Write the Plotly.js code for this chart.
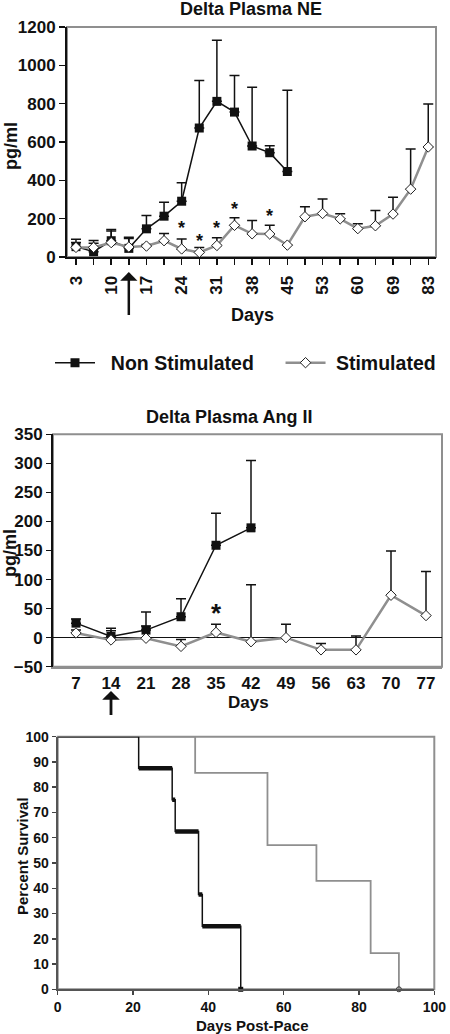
<!DOCTYPE html>
<html><head><meta charset="utf-8">
<script src="https://cdn.plot.ly/plotly-3.0.1.min.js"></script>
<style>html,body{margin:0;padding:0;background:#fff;} #chart{width:450px;height:1034px;}</style>
</head><body><div id="chart"></div>
<script>
// ---------- Delta Plasma NE ----------
const neDays = ['3','7','10','14','17','21','24','28','31','35','38','42','45','49','53','56','60','63','69','76','83'];
const neTickText = ['3','','10','','17','','24','','31','','38','','45','','53','','60','','69','','83'];
const neNonStim = [54, 28, 85, 45, 147, 213, 291, 673, 812, 756, 579, 544, 446];
const neNonStimErr = [39, 58, 59, 58, 69, 73, 97, 248, 319, 191, 307, 37, 424];
const neStim = [50, 50, 75, 52, 57, 85, 42, 24, 60, 165, 121, 120, 62, 210, 227, 199, 148, 163, 224, 354, 574];
const neStimErr = [26, 22, 60, 45, 8, 37, 52, 26, 40, 40, 70, 45, 0, 52, 76, 26, 25, 80, 88, 210, 224];
const neSigDays = ['24', '28', '31', '35', '42'];
const neSigLevel = [172, 103, 172, 270, 235];
const neStimDay = '14';

// ---------- Delta Plasma Ang II ----------
const agDays = [7, 14, 21, 28, 35, 42, 49, 56, 63, 70, 77];
const agNonStim = [25, 2, 13, 36, 159, 189];
const agNonStimErr = [7, 14, 31, 31, 55, 116];
const agStim = [8, -4, -1, -15, 9, -7, 0, -21, -21, 73, 38];
const agStimErr = [5, 16, 21, 12, 14, 98, 23, 11, 24, 76, 76];
const agSigDays = [35];
const agSigLevel = [53];
const agStimDay = 14;

// ---------- Survival ----------
const survNSTime = [0, 21.5, 30.4, 31.2, 37.4, 38.4, 48.6];
const survNS = [100, 87.5, 75, 62.5, 37.5, 25, 0];
const survSTime = [0, 36.5, 55.7, 68.7, 83.1, 90.6];
const survS = [100, 85.7, 57.1, 42.9, 14.3, 0];

const seriesNames = ['Non Stimulated', 'Stimulated'];

// ---------- styling ----------
const W = 450, H = 1034;
const px = v => v / W;
const py = v => 1 - v / H;
const FONT = 'Liberation Sans, Arial, Helvetica, sans-serif';
const GREY = '#8f8f8f';
const BLACK = '#111';
const NB = '\u00a0';
const bold = s => (s === '' ? '' : '<b>' + s + '</b>');
const catIdx = d => neDays.indexOf(d);

function zeros(n) { return new Array(n).fill(0); }

const traces = [];
// NE
traces.push({
  x: neDays.slice(0, neNonStim.length), y: neNonStim, xaxis: 'x', yaxis: 'y',
  name: NB + NB + bold(seriesNames[0]) + NB.repeat(4), type: 'scatter', mode: 'lines+markers', cliponaxis: false,
  line: {color: BLACK, width: 1.5},
  marker: {symbol: 'square', size: 9, color: BLACK},
  error_y: {type: 'data', symmetric: false, array: neNonStimErr, arrayminus: zeros(neNonStim.length), color: BLACK, thickness: 1.5, width: 5}
});
traces.push({
  x: neDays, y: neStim, xaxis: 'x', yaxis: 'y',
  name: NB + bold(seriesNames[1]), type: 'scatter', mode: 'lines+markers', cliponaxis: false,
  line: {color: GREY, width: 2.5},
  marker: {symbol: 'diamond', size: 8, color: '#fff', line: {color: '#222', width: 1}},
  error_y: {type: 'data', symmetric: false, array: neStimErr, arrayminus: zeros(neStim.length), color: BLACK, thickness: 1.5, width: 5}
});
// Ang II
traces.push({
  x: agDays.slice(0, agNonStim.length), y: agNonStim, xaxis: 'x2', yaxis: 'y2', showlegend: false,
  type: 'scatter', mode: 'lines+markers', cliponaxis: false,
  line: {color: BLACK, width: 1.5},
  marker: {symbol: 'square', size: 9, color: BLACK},
  error_y: {type: 'data', symmetric: false, array: agNonStimErr, arrayminus: zeros(agNonStim.length), color: BLACK, thickness: 1.5, width: 5}
});
traces.push({
  x: agDays, y: agStim, xaxis: 'x2', yaxis: 'y2', showlegend: false,
  type: 'scatter', mode: 'lines+markers', cliponaxis: false,
  line: {color: GREY, width: 2.5},
  marker: {symbol: 'diamond', size: 8, color: '#fff', line: {color: '#222', width: 1}},
  error_y: {type: 'data', symmetric: false, array: agStimErr, arrayminus: zeros(agStim.length), color: BLACK, thickness: 1.5, width: 5}
});
// Survival
traces.push({
  x: survSTime, y: survS, xaxis: 'x3', yaxis: 'y3', showlegend: false,
  type: 'scatter', mode: 'lines', line: {color: GREY, width: 1.8, shape: 'hv'}
});
traces.push({
  x: [survSTime[survSTime.length - 1]], y: [survS[survS.length - 1]], xaxis: 'x3', yaxis: 'y3', showlegend: false,
  type: 'scatter', mode: 'markers', cliponaxis: false,
  marker: {symbol: 'circle-open', size: 5, color: '#333', line: {width: 1}}
});
const nsThickX = [], nsThickY = [];
for (let i = 1; i < survNSTime.length - 1; i++) {
  nsThickX.push(survNSTime[i], survNSTime[i + 1], null);
  nsThickY.push(survNS[i], survNS[i], null);
}
traces.push({
  x: survNSTime, y: survNS, xaxis: 'x3', yaxis: 'y3', showlegend: false,
  type: 'scatter', mode: 'lines', line: {color: BLACK, width: 1.5, shape: 'hv'}
});
traces.push({
  x: nsThickX, y: nsThickY, xaxis: 'x3', yaxis: 'y3', showlegend: false,
  type: 'scatter', mode: 'lines', line: {color: BLACK, width: 4.5}
});
traces.push({
  x: [survNSTime[survNSTime.length - 1]], y: [survNS[survNS.length - 1]], xaxis: 'x3', yaxis: 'y3', showlegend: false,
  type: 'scatter', mode: 'markers', cliponaxis: false,
  marker: {symbol: 'square', size: 5, color: BLACK}
});

const tickFont = s => ({family: FONT, size: s, color: BLACK, weight: 'bold'});
const ann = [];
function label(text, x, y, size, angle) {
  ann.push({text: bold(text), x: px(x), y: py(y), xref: 'paper', yref: 'paper', showarrow: false,
    textangle: angle || 0, font: {family: FONT, size, color: BLACK, weight: 'bold'}, xanchor: 'center', yanchor: 'middle'});
}
label('Delta Plasma NE', 251, 9, 18);
label('pg/ml', 11, 146, 18, -90);
label('Days', 252, 315, 18);
label('Delta Plasma Ang II', 229, 417, 18);
label('pg/ml', 10, 553, 18, -90);
label('Days', 248, 702, 17);
label('Percent Survival', 22, 856, 15, -90);
label('Days Post-Pace', 253, 1025, 15);

neSigDays.forEach((d, i) => ann.push({text: '<b>*</b>', x: catIdx(d), y: neSigLevel[i], xref: 'x', yref: 'y', showarrow: false,
  yshift: -4, font: {family: FONT, size: 18, color: BLACK, weight: 'bold'}}));
agSigDays.forEach((d, i) => ann.push({text: '<b>*</b>', x: d, y: agSigLevel[i], xref: 'x2', yref: 'y2', showarrow: false,
  yshift: -6, font: {family: FONT, size: 26, color: BLACK, weight: 'bold'}}));

// pacing arrows
ann.push({text: ' ', x: catIdx(neStimDay), y: py(272), xref: 'x', yref: 'paper', showarrow: true, ax: 0, ay: 45,
  arrowhead: 1, arrowsize: 1.15, arrowwidth: 2.5, arrowcolor: BLACK, standoff: 0, font: {size: 1}});
ann.push({text: ' ', x: agStimDay, y: py(691), xref: 'x2', yref: 'paper', showarrow: true, ax: 0, ay: 26,
  arrowhead: 1, arrowsize: 1.05, arrowwidth: 2.8, arrowcolor: BLACK, standoff: 0, font: {size: 1}});

const frame = (xr, yr) => ({type: 'rect', xref: xr + ' domain', yref: yr + ' domain', x0: 0, x1: 1, y0: 0, y1: 1,
  line: {color: GREY, width: 2}, layer: 'below'});

const layout = {
  width: W, height: H, margin: {l: 0, r: 0, t: 0, b: 0},
  paper_bgcolor: '#fff', plot_bgcolor: '#fff',
  font: {family: FONT, color: BLACK, weight: 'bold'},
  showlegend: true,
  legend: {orientation: 'h', x: px(50), xanchor: 'left', y: py(363), yanchor: 'middle', itemwidth: 40,
    font: {family: FONT, size: 19.5, color: BLACK, weight: 'bold'}, bgcolor: 'rgba(0,0,0,0)'},
  xaxis: {domain: [px(67), px(436)], anchor: 'y', type: 'category', categoryorder: 'array', categoryarray: neDays,
    range: [-0.51, 20.44], tickvals: neDays, ticktext: neTickText.map(bold), tickangle: -90,
    ticks: 'outside', ticklen: 6, tickwidth: 1.5, tickcolor: BLACK, ticklabelstandoff: 4,
    showline: true, linecolor: BLACK, linewidth: 2, showgrid: false, zeroline: false, tickfont: tickFont(17)},
  yaxis: {domain: [py(257), py(27)], anchor: 'x', range: [0, 1200], dtick: 200, tickprefix: '<b>', ticksuffix: '</b>',
    ticks: 'outside', ticklen: 6, tickwidth: 1.5, tickcolor: BLACK,
    showline: true, linecolor: BLACK, linewidth: 2, showgrid: false, zeroline: false, tickfont: tickFont(17)},
  xaxis2: {domain: [px(53), px(442)], anchor: 'y2', range: [2.4, 80.2], tickvals: agDays, ticktext: agDays.map(d => bold(String(d))),
    ticks: '', showline: true, linecolor: GREY, linewidth: 2, showgrid: false, zeroline: false, tickfont: tickFont(17)},
  yaxis2: {domain: [py(666.7), py(434.3)], anchor: 'x2', range: [-50, 350], dtick: 50, tickprefix: '<b>', ticksuffix: '</b>',
    ticks: 'outside', ticklen: 5, tickwidth: 1.5, tickcolor: BLACK,
    showline: true, linecolor: BLACK, linewidth: 2, showgrid: false,
    zeroline: true, zerolinecolor: BLACK, zerolinewidth: 1.5, tickfont: tickFont(17)},
  xaxis3: {domain: [px(57.7), px(434.3)], anchor: 'y3', range: [0, 100], dtick: 20, tickprefix: '<b>', ticksuffix: '</b>',
    ticks: 'outside', ticklen: 4, tickwidth: 1.5, tickcolor: '#444',
    showline: true, linecolor: '#555', linewidth: 2, showgrid: false, zeroline: false, tickfont: tickFont(14)},
  yaxis3: {domain: [py(989.3), py(736.7)], anchor: 'x3', range: [0, 100], dtick: 10, tickprefix: '<b>', ticksuffix: '</b>',
    ticks: 'outside', ticklen: 4, tickwidth: 1.5, tickcolor: '#444',
    showline: true, linecolor: '#555', linewidth: 2, showgrid: false, zeroline: false, tickfont: tickFont(14)},
  shapes: [frame('x', 'y'), frame('x2', 'y2'), frame('x3', 'y3')],
  annotations: ann
};

Plotly.newPlot('chart', traces, layout, {staticPlot: true, displayModeBar: false});
</script>
</body></html>
